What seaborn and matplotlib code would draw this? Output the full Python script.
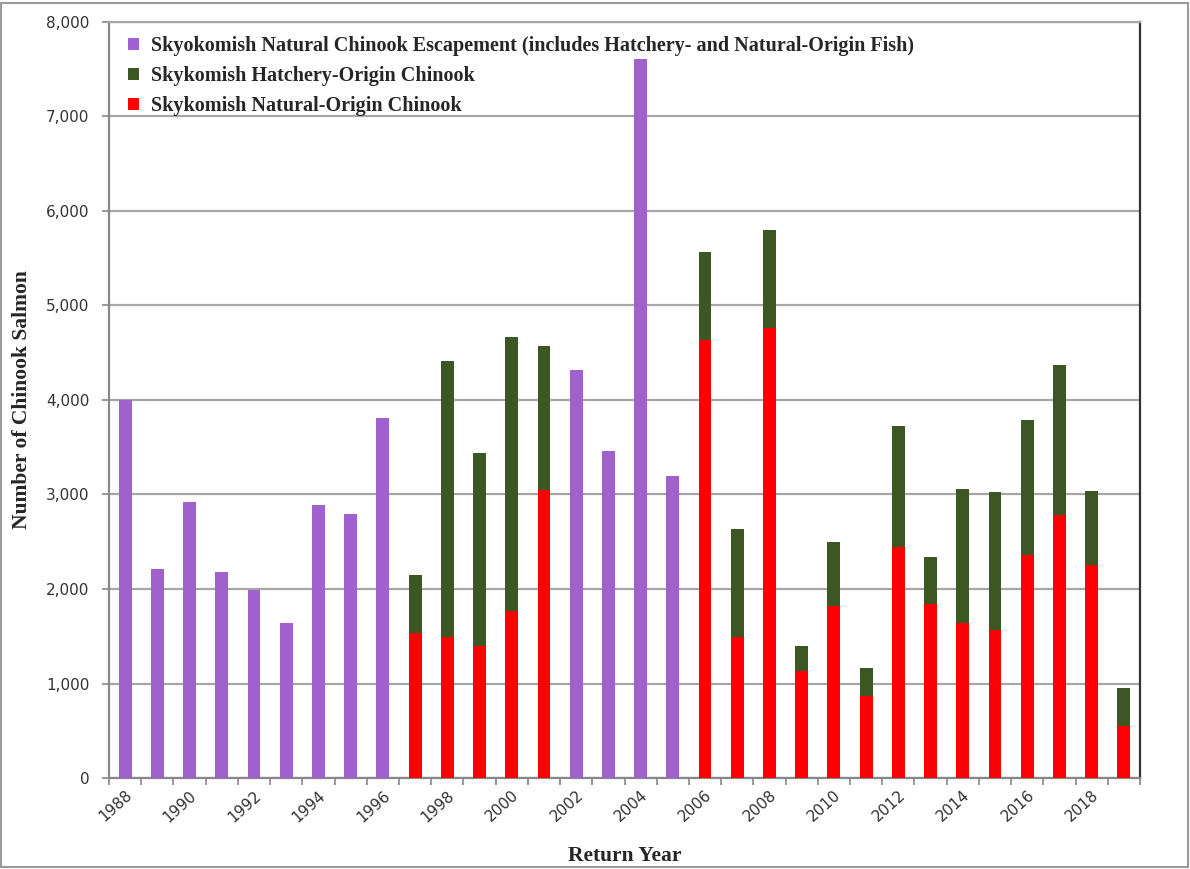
import matplotlib
matplotlib.use("Agg")
import matplotlib.pyplot as plt
import matplotlib.ticker as mticker
from matplotlib.patches import Patch, Rectangle
import seaborn as sns
import pandas as pd
import numpy as np

years = [1988, 1989, 1990, 1991, 1992, 1993, 1994, 1995, 1996, 1997, 1998,
         1999, 2000, 2001, 2002, 2003, 2004, 2005, 2006, 2007, 2008, 2009,
         2010, 2011, 2012, 2013, 2014, 2015, 2016, 2017, 2018, 2019]

escapement = [4000, 2210, 2920, 2180, 1990, 1640, 2890, 2790, 3810,
              None, None, None, None, None,
              4320, 3460, 7610, 3200,
              None, None, None, None, None, None, None, None, None, None,
              None, None, None, None]

natural = [None, None, None, None, None, None, None, None, None,
           1530, 1490, 1400, 1770, 3045,
           None, None, None, None,
           4630, 1495, 4765, 1135, 1820, 865, 2445, 1845, 1640, 1570,
           2360, 2780, 2255, 555]

hatchery = [None, None, None, None, None, None, None, None, None,
            620, 2920, 2040, 2900, 1530,
            None, None, None, None,
            940, 1135, 1030, 265, 680, 300, 1285, 495, 1415, 1460,
            1425, 1595, 780, 395]

labels = [
    "Skyokomish Natural Chinook Escapement (includes Hatchery- and Natural-Origin Fish)",
    "Skykomish Hatchery-Origin Chinook",
    "Skykomish Natural-Origin Chinook",
]
colors = ["#A061CF", "#3C5624", "#FF0000"]

cats = [str(y) for y in years]
df = pd.DataFrame({"year": cats,
                   "esc": pd.array(escapement, dtype="Float64").astype(float),
                   "nat": pd.array(natural, dtype="Float64").astype(float),
                   "hat": pd.array(hatchery, dtype="Float64").astype(float)})
df["tot"] = df["nat"] + df["hat"]

sns.set_style("white")
serif = ["Liberation Serif", "DejaVu Serif"]

fig = plt.figure(figsize=(11.9, 8.69), dpi=100)
ax = fig.add_axes([109 / 1190, 1 - 778 / 869, (1140 - 109) / 1190, (778 - 22) / 869])

bw = 0.4
d_esc = df.dropna(subset=["esc"])
d_stk = df.dropna(subset=["tot"])
sns.barplot(data=d_esc, x="year", y="esc", order=cats, color=colors[0],
            width=bw, saturation=1, ax=ax, errorbar=None, linewidth=0, zorder=3)
sns.barplot(data=d_stk, x="year", y="tot", order=cats, color=colors[1],
            width=bw, saturation=1, ax=ax, errorbar=None, linewidth=0, zorder=3)
sns.barplot(data=d_stk, x="year", y="nat", order=cats, color=colors[2],
            width=bw, saturation=1, ax=ax, errorbar=None, linewidth=0, zorder=4)

ax.set_xlim(-0.5, len(cats) - 0.5)
ax.set_ylim(0, 8000)
ax.yaxis.set_major_locator(mticker.MultipleLocator(1000))
ax.yaxis.set_major_formatter(mticker.FuncFormatter(lambda v, p: f"{int(v):,}"))
ax.grid(axis="y", color="#A6A6A6", linewidth=1.6, zorder=0)
ax.set_axisbelow(True)

# x ticks: labels at even years, tick marks at category boundaries
ax.set_xticks(range(0, len(cats), 2))
ax.set_xticklabels([cats[i] for i in range(0, len(cats), 2)], rotation=42,
                   ha="right", rotation_mode="anchor", fontsize=11,
                   color="#333333")
ax.set_xticks(np.arange(-0.5, len(cats), 1.0), minor=True)
ax.tick_params(axis="x", which="major", length=0, pad=7)
ax.tick_params(axis="x", which="minor", length=5, width=1.2, color="#888888",
               direction="out")
ax.tick_params(axis="y", length=5, width=1.2, color="#888888", direction="out",
               labelsize=11, labelcolor="#333333", pad=9)
ax.xaxis.set_ticks_position("bottom")
ax.yaxis.set_ticks_position("left")

for s in ["left", "bottom"]:
    ax.spines[s].set_color("#888888")
    ax.spines[s].set_linewidth(1.6)
ax.spines["top"].set_color("#A6A6A6")
ax.spines["top"].set_linewidth(1.6)
ax.spines["right"].set_color("#333333")
ax.spines["right"].set_linewidth(1.6)

ax.set_xlabel("Return Year", fontsize=15.5, fontweight="bold", family=serif,
              labelpad=15)
ax.set_ylabel("Number of Chinook Salmon", fontsize=15.5, fontweight="bold",
              family=serif, labelpad=10)

handles = [Patch(facecolor=c, edgecolor="none") for c in colors]
ax.legend(handles, labels, loc="upper left", bbox_to_anchor=(0.005, 1.0),
          frameon=False, prop={"family": serif, "weight": "bold", "size": 14.5},
          handlelength=0.55, handleheight=0.55, handletextpad=0.6,
          labelspacing=0.5, borderaxespad=0.3)

fig.patches.append(Rectangle((0.001, 0.002), 0.997, 0.995,
                             transform=fig.transFigure, fill=False,
                             edgecolor="#9A9A9A", linewidth=1.5))

fig.savefig("out.png", dpi=100, facecolor="white")
